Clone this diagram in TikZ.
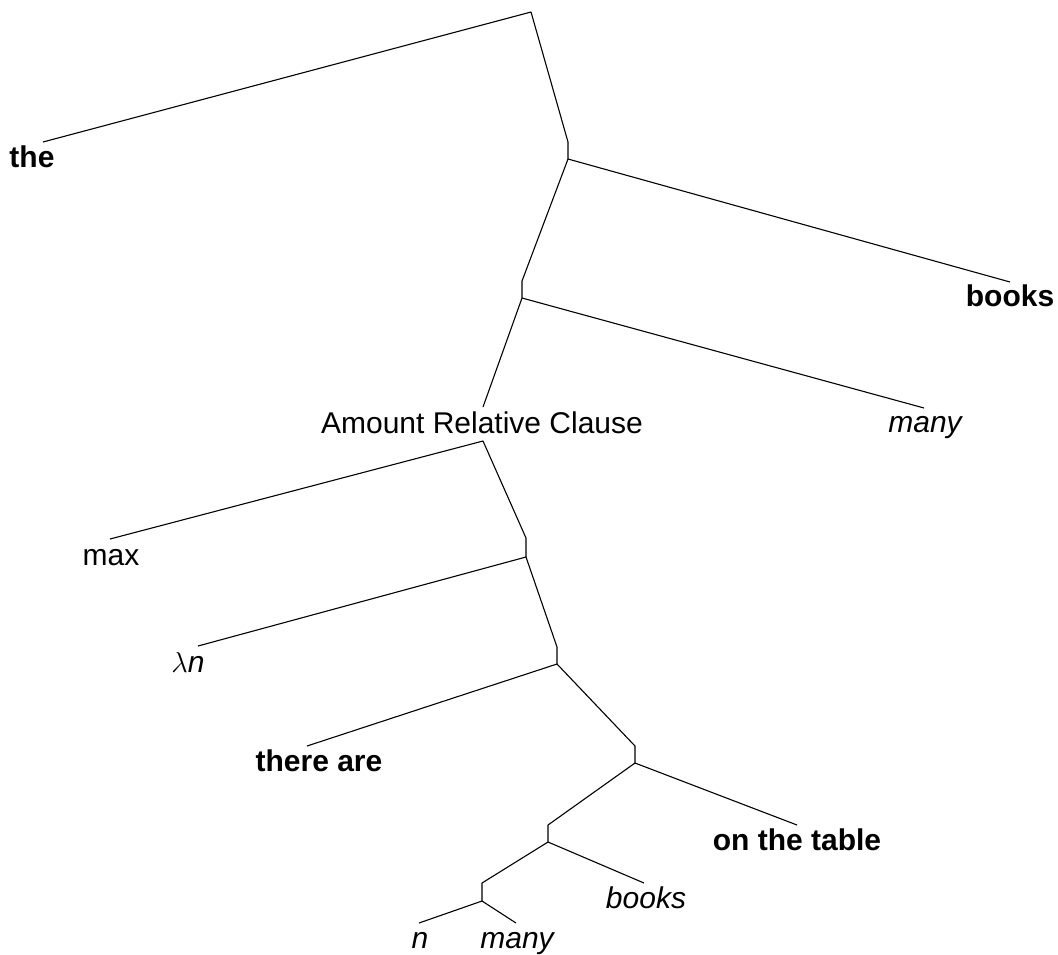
\documentclass[tikz,border=0pt]{standalone}
\usepackage{fontspec}
\setmainfont{Liberation Sans}
\begin{document}
\begin{tikzpicture}[x=0.5pt,y=-0.5pt,
  edge/.style={line width=0.55pt, line join=round},
  lbl/.style={anchor=base, inner sep=0pt, font=\fontsize{15}{18}\selectfont},
  bf/.style={lbl, font=\fontsize{15}{18}\selectfont\bfseries},
  it/.style={lbl, font=\fontsize{15}{18}\selectfont\itshape}]
\useasboundingbox (0,0) rectangle (1058,954);
% internal points
\coordinate (r) at (531,12);
\coordinate (a1) at (568,142); \coordinate (a2) at (568,159);
\coordinate (b1) at (522,281); \coordinate (b2) at (522,298);
\coordinate (arcT) at (483,407); \coordinate (arcB) at (483,441);
\coordinate (c1) at (526,538); \coordinate (c2) at (526,557);
\coordinate (d1) at (557,647); \coordinate (d2) at (557,664);
\coordinate (e1) at (635,746); \coordinate (e2) at (635,763);
\coordinate (f1) at (548,825); \coordinate (f2) at (548,842);
\coordinate (g1) at (482,883); \coordinate (g2) at (482,901);
% leaf line ends
\coordinate (theE) at (43,142);
\coordinate (booksE) at (1010,282);
\coordinate (manyE) at (924,408);
\coordinate (maxE) at (110,539);
\coordinate (lnE) at (198,646);
\coordinate (thereE) at (307,746);
\coordinate (tableE) at (797,825);
\coordinate (books2E) at (644,883);
\coordinate (nE) at (419,923);
\coordinate (many2E) at (516,923);
% labels
\node[bf] (the) at (32,167) {the};
\node[bf] (books) at (1010,306) {books};
\node[it] (many) at (925,432) {many};
\node[lbl] (arc) at (482,433) {Amount Relative Clause};
\node[lbl] (max) at (111,565) {max};
\node[lbl] (ln) at (188,672) {$\lambda$\textit{n}};
\node[bf] (there) at (319,771) {there are};
\node[bf] (table) at (797,850) {on the table};
\node[it] (books2) at (646,908) {books};
\node[it] (n) at (420,948) {n};
\node[it] (many2) at (517,948) {many};
% edges
\draw[edge] (theE) -- (r) -- (a1) -- (a2);
\draw[edge] (a2) -- (booksE);
\draw[edge] (a2) -- (b1) -- (b2);
\draw[edge] (b2) -- (manyE);
\draw[edge] (b2) -- (arcT);
\draw[edge] (maxE) -- (arcB) -- (c1) -- (c2);
\draw[edge] (c2) -- (lnE);
\draw[edge] (c2) -- (d1) -- (d2);
\draw[edge] (d2) -- (thereE);
\draw[edge] (d2) -- (e1) -- (e2);
\draw[edge] (e2) -- (tableE);
\draw[edge] (e2) -- (f1) -- (f2);
\draw[edge] (f2) -- (books2E);
\draw[edge] (f2) -- (g1) -- (g2);
\draw[edge] (g2) -- (nE);
\draw[edge] (g2) -- (many2E);
\end{tikzpicture}
\end{document}
